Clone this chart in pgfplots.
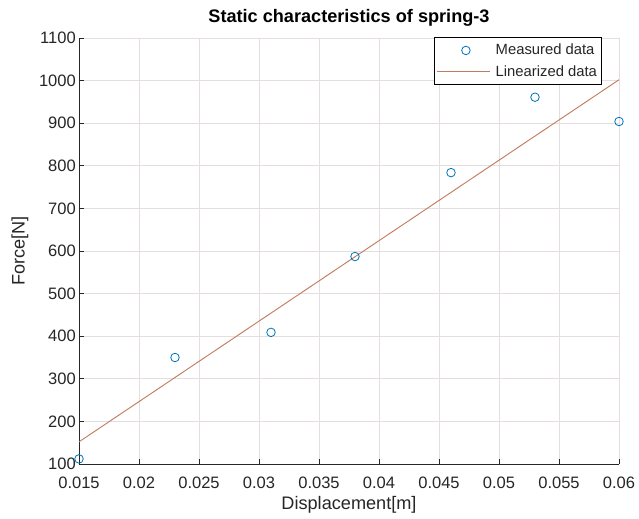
\documentclass[border=0pt]{standalone}
\usepackage{pgfplots}
\pgfplotsset{compat=1.18}
\usepackage{fontspec}
\setmainfont{Liberation Sans}
\definecolor{mblue}{rgb}{0,0.447,0.741}
\definecolor{morange}{RGB}{192,124,96}
\definecolor{gridc}{RGB}{228,222,222}
\definecolor{axc}{RGB}{38,38,38}
\begin{document}
\begin{tikzpicture}
\useasboundingbox (-59.25pt,-40.5pt) rectangle (420pt,348pt);
\begin{axis}[
  at={(0,0)}, anchor=south west,
  scale only axis, width=405pt, height=319.5pt,
  xmin=0.015, xmax=0.06, ymin=100, ymax=1100,
  scaled x ticks=false, scaled y ticks=false,
  axis x line*=bottom, axis y line*=left,
  x axis line style={-, draw=axc, line width=0.6pt},
  y axis line style={-, draw=axc, line width=0.6pt},
  tick align=inside, major tick length=4pt,
  tick style={draw=axc, line width=0.5pt},
  xtick={0.015,0.02,0.025,0.03,0.035,0.04,0.045,0.05,0.055,0.06},
  xticklabels={0.015,0.02,0.025,0.03,0.035,0.04,0.045,0.05,0.055,0.06},
  ytick={100,200,300,400,500,600,700,800,900,1000,1100},
  yticklabels={100,200,300,400,500,600,700,800,900,1000,1100},
  ticklabel style={font=\fontsize{12.4}{14}\selectfont, text=axc},
  yticklabel style={inner xsep=2.2pt},
  xticklabel style={yshift=-6pt},
  grid=major,
  major grid style={draw=gridc, line width=0.5pt},
  title={\textbf{Static characteristics of spring-3}},
  title style={font=\fontsize{13.6}{15}\selectfont, at={(axis description cs:0.5,1.047)}, anchor=center, yshift=-6pt},
  xlabel={Displacement[m]},
  ylabel={Force[N]},
  label style={font=\fontsize{13.6}{15}\selectfont, text=axc},
  xlabel style={at={(axis description cs:0.5,-0.0962)}, anchor=center},
  ylabel style={at={(axis description cs:-0.1093,0.5)}, anchor=center},
  legend cell align=left,
  legend style={at={(axis description cs:0.9685,1.0023)}, anchor=north east,
    draw=black, line width=0.6pt, fill=white,
    font=\fontsize{11.1}{13}\selectfont, text=axc,
    inner xsep=1.5pt, inner ysep=3pt, row sep=2.5pt,
    /tikz/every odd column/.append style={column sep=2pt},
    /tikz/every even column/.append style={column sep=0pt}},
]
\addplot[only marks, mark=o, mark size=3.2pt, draw=mblue, line width=0.6pt,
  legend image code/.code={\draw[draw=mblue, line width=0.6pt] (22pt,0pt) circle (3.2pt); \path[draw=none] (0pt,0pt) -- (40pt,0pt);}]
  coordinates {(0.015,112) (0.023,350) (0.031,409) (0.038,587) (0.046,784) (0.053,961) (0.06,904)};
\addlegendentry{Measured data}
\addplot[draw=morange, line width=0.7pt,
  legend image code/.code={\draw[draw=morange, line width=0.7pt] (0pt,0pt) -- (40pt,0pt);}]
  coordinates {(0.015,152) (0.06,1002)};
\addlegendentry{Linearized data}
\end{axis}
\end{tikzpicture}
\end{document}
